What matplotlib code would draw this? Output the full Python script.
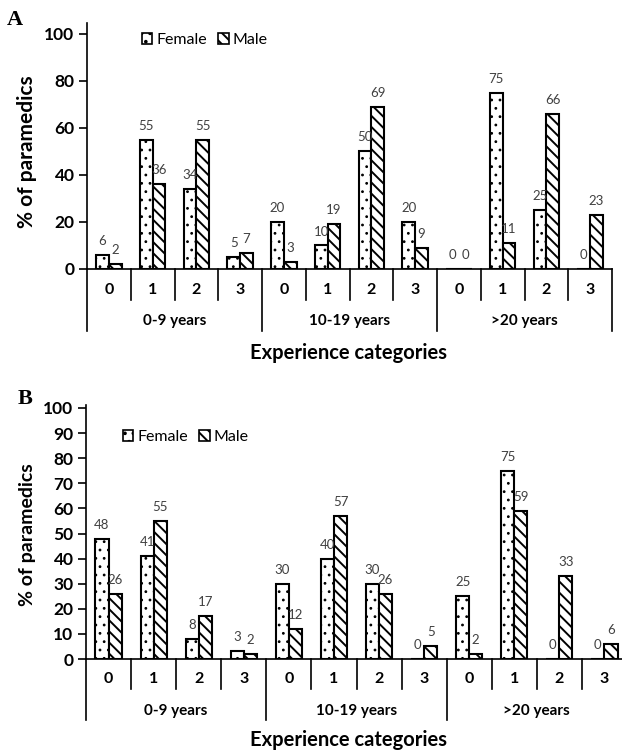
import matplotlib
matplotlib.use("Agg")
import matplotlib.pyplot as plt
from matplotlib.patches import Patch
import numpy as np

groups = ["0-9 years", "10-19 years", ">20 years"]
levels = ["0", "1", "2", "3"]

# panel A
female_a = [6, 55, 34, 5, 20, 10, 50, 20, 0, 75, 25, 0]
male_a = [2, 36, 55, 7, 3, 19, 69, 9, 0, 11, 66, 23]
ticks_a = [0, 20, 40, 60, 80, 100]

# panel B
female_b = [48, 41, 8, 3, 30, 40, 30, 0, 25, 75, 0, 0]
male_b = [26, 55, 17, 2, 12, 57, 26, 5, 2, 59, 33, 6]
ticks_b = [0, 10, 20, 30, 40, 50, 60, 70, 80, 90, 100]

W, H = 622, 751
plt.rcParams['font.family'] = ['Lato', 'DejaVu Sans']
plt.rcParams['hatch.linewidth'] = 1.4
plt.rcParams['hatch.color'] = 'black'

fig = plt.figure(figsize=(W / 100, H / 100), dpi=100)

FEMALE_HATCH = '..'
MALE_HATCH = '\\\\\\'
DOT_LW = 0.8


def px(v):
    # pixels -> points at 100 dpi
    return v * 0.72


def panel(x0, x1, y_zero, y_top, ytop_val, female, male, yticks, letter, letter_xy,
          legend_xy, ylabel_y, ylabel_size, depths):
    ax = fig.add_axes([x0 / W, (H - y_zero) / H, (x1 - x0) / W, (y_zero - y_top) / H])
    hpx = y_zero - y_top
    x = np.arange(len(female))
    w = 0.29
    with plt.rc_context({'hatch.linewidth': DOT_LW}):
        ax.bar(x - w / 2, female, w, facecolor='white', edgecolor='black', lw=1.5,
               hatch=FEMALE_HATCH, zorder=3)
    ax.bar(x + w / 2, male, w, facecolor='white', edgecolor='black', lw=1.5,
           hatch=MALE_HATCH, zorder=3)
    for xi, v in zip(x - w / 2, female):
        ax.annotate(str(v), (xi, v), xytext=(0, px(14)), textcoords='offset points',
                    ha='center', va='center', fontsize=9.5, color='#404040')
    for xi, v in zip(x + w / 2, male):
        ax.annotate(str(v), (xi, v), xytext=(0, px(14)), textcoords='offset points',
                    ha='center', va='center', fontsize=9.5, color='#404040')

    ax.set_xlim(-0.5, len(female) - 0.5)
    ax.set_ylim(0, ytop_val)
    ax.set_yticks(yticks)
    ax.set_yticklabels([str(t) for t in yticks], fontweight='bold', fontsize=12.5)
    ax.tick_params(axis='y', direction='out', length=6, width=1.2, pad=3)
    ax.set_xticks([])
    for s in ['top', 'right']:
        ax.spines[s].set_visible(False)
    for s in ['left', 'bottom']:
        ax.spines[s].set_linewidth(1.2)

    cat_px, short_px, group_lbl_px, long_px, xlabel_px = depths
    tr = ax.get_xaxis_transform()
    for k in range(len(female) + 1):
        xb = k - 0.5
        d = long_px if k % 4 == 0 else short_px
        ax.plot([xb, xb], [0, -d / hpx], transform=tr, clip_on=False,
                color='black', lw=1.2)
    for k in range(len(female)):
        ax.text(k, -cat_px / hpx, levels[k % 4], transform=tr, ha='center', va='center',
                fontsize=11.5, fontweight='bold')
    for g, name in enumerate(groups):
        ax.text(g * 4 + 1.5, -group_lbl_px / hpx, name, transform=tr, ha='center',
                va='center', fontsize=11, fontweight='bold')

    fig.text(349 / W, 1 - (y_zero + xlabel_px) / H, 'Experience categories',
             ha='center', va='center', fontsize=14.5, fontweight='bold')
    fig.text(27 / W, 1 - ylabel_y / H, '% of paramedics', rotation=90,
             ha='center', va='center', fontsize=ylabel_size, fontweight='bold')
    fig.text(letter_xy[0] / W, 1 - letter_xy[1] / H, letter, family='Liberation Serif',
             fontweight='bold', fontsize=16, ha='left', va='center')

    with plt.rc_context({'hatch.linewidth': DOT_LW}):
        h_f = Patch(facecolor='white', edgecolor='black', lw=1.2, hatch=FEMALE_HATCH)
    h_m = Patch(facecolor='white', edgecolor='black', lw=1.2, hatch=MALE_HATCH)
    fig.legend([h_f, h_m], ['Female', 'Male'], loc='center left',
               bbox_to_anchor=(legend_xy[0] / W, 1 - legend_xy[1] / H), ncol=2,
               frameon=False, fontsize=11.5, handlelength=0.65, handleheight=0.65,
               handletextpad=0.25, columnspacing=0.7, borderpad=0, borderaxespad=0)
    return ax


panel(87, 612, 269, 23, (269 - 23) / 2.35, female_a, male_a, ticks_a, 'A', (7, 20),
      (142, 40), 152, 15, (21, 31, 52, 62, 84))
panel(86, 627, 659, 405, (659 - 405) / 2.51, female_b, male_b, ticks_b, 'B', (18, 399),
      (123, 437), 535, 14, (20, 30, 52, 61, 81))

fig.savefig('out.png', dpi=100)
